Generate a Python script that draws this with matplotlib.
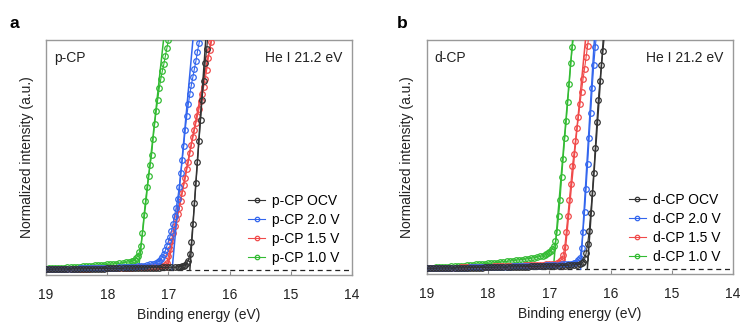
import matplotlib.pyplot as plt

# shared energy grid for the flat (pre-onset) part of every spectrum, eV
BASE_E = [
    19.00, 18.95, 18.90, 18.85, 18.80, 18.75, 18.70, 18.65, 18.60, 18.55,
    18.50, 18.45, 18.40, 18.35, 18.30, 18.25, 18.20, 18.15, 18.10, 18.05,
    18.00, 17.95, 17.90, 17.85, 17.80, 17.75, 17.70, 17.65, 17.60, 17.55,
    17.50, 17.45, 17.40, 17.35, 17.30, 17.25, 17.20, 17.15, 17.10, 17.05,
    17.00, 16.95, 16.90, 16.85, 16.80, 16.75, 16.70, 16.65, 16.60, 16.55,
    16.50,
]

LABELS = ["OCV", "2.0 V", "1.5 V", "1.0 V"]
COLORS = ["#333333", "#3366ee", "#f04a4a", "#33bb33"]

# ---- panel a: p-CP ----
P_BASE = [
    [0.003, 0.003, 0.003, 0.004, 0.004, 0.004, 0.004, 0.004, 0.005, 0.005,
     0.005, 0.005, 0.005, 0.005, 0.006, 0.006, 0.006, 0.006, 0.006, 0.006,
     0.007, 0.007, 0.007, 0.007, 0.007, 0.008, 0.008, 0.008, 0.008, 0.008,
     0.009, 0.009, 0.009, 0.009, 0.010, 0.010, 0.010, 0.010, 0.011, 0.011,
     0.011, 0.012, 0.012, 0.013],
    [0.004, 0.004, 0.004, 0.005, 0.005, 0.005, 0.005, 0.006, 0.006, 0.006,
     0.006, 0.007, 0.007, 0.007, 0.007, 0.008, 0.008, 0.008, 0.009, 0.009,
     0.009, 0.010, 0.010, 0.010, 0.011, 0.011, 0.012, 0.012, 0.013, 0.013,
     0.016, 0.017, 0.019, 0.021, 0.024, 0.027, 0.031],
    [0.003, 0.003, 0.004, 0.004, 0.004, 0.004, 0.005, 0.005, 0.005, 0.005,
     0.005, 0.006, 0.006, 0.006, 0.006, 0.007, 0.007, 0.007, 0.007, 0.008,
     0.008, 0.008, 0.008, 0.009, 0.009, 0.009, 0.010, 0.010, 0.010, 0.011,
     0.011, 0.012, 0.012, 0.013, 0.013, 0.014, 0.015, 0.016, 0.018, 0.020],
    [0.006, 0.007, 0.007, 0.008, 0.009, 0.009, 0.010, 0.011, 0.012, 0.013,
     0.014, 0.015, 0.016, 0.017, 0.018, 0.019, 0.020, 0.021, 0.022, 0.023,
     0.024, 0.025, 0.026, 0.028, 0.029, 0.031, 0.033, 0.035, 0.037],
]
P_RISE_E = [
    [16.825, 16.80, 16.775, 16.75, 16.725, 16.70, 16.675, 16.65, 16.625,
     16.60, 16.575, 16.55, 16.525, 16.50, 16.475, 16.45, 16.425, 16.40,
     16.375, 16.35],
    [17.175, 17.15, 17.125, 17.10, 17.075, 17.05, 17.025, 17.00, 16.975,
     16.95, 16.925, 16.90, 16.875, 16.85, 16.825, 16.80, 16.775, 16.75,
     16.725, 16.70, 16.675, 16.65, 16.625, 16.60, 16.575, 16.55, 16.525,
     16.50, 16.475],
    [17.025, 17.00, 16.975, 16.95, 16.925, 16.90, 16.875, 16.85, 16.825,
     16.80, 16.775, 16.75, 16.725, 16.70, 16.675, 16.65, 16.625, 16.60,
     16.575, 16.55, 16.525, 16.50, 16.475, 16.45, 16.425, 16.40, 16.375,
     16.35, 16.325, 16.30, 16.275],
    [17.575, 17.55, 17.525, 17.50, 17.475, 17.45, 17.425, 17.40, 17.375,
     17.35, 17.325, 17.30, 17.275, 17.25, 17.225, 17.20, 17.175, 17.15,
     17.125, 17.10, 17.075, 17.05, 17.025, 17.00, 16.975],
]
P_RISE_I = [
    [0.014, 0.015, 0.017, 0.019, 0.023, 0.030, 0.040, 0.070, 0.120,
     0.200, 0.290, 0.380, 0.470, 0.560, 0.650, 0.740, 0.820, 0.900,
     0.960, 1.030],
    [0.035, 0.040, 0.047, 0.055, 0.068, 0.085, 0.105, 0.125, 0.145,
     0.170, 0.200, 0.235, 0.270, 0.310, 0.360, 0.420, 0.480, 0.540,
     0.610, 0.670, 0.720, 0.765, 0.805, 0.840, 0.875, 0.910, 0.950,
     0.985, 1.020],
    [0.030, 0.060, 0.090, 0.125, 0.160, 0.190, 0.220, 0.245, 0.270,
     0.300, 0.335, 0.370, 0.400, 0.440, 0.470, 0.510, 0.545, 0.580,
     0.610, 0.640, 0.670, 0.700, 0.735, 0.765, 0.795, 0.830, 0.870,
     0.920, 0.955, 0.990, 1.030],
    [0.040, 0.045, 0.052, 0.062, 0.078, 0.105, 0.160, 0.240, 0.300,
     0.360, 0.410, 0.455, 0.500, 0.570, 0.635, 0.690, 0.740, 0.790,
     0.830, 0.865, 0.895, 0.930, 0.965, 1.000, 1.040],
]
# linear onset fits: [onset energy, energy at I = 1]
P_FIT = [[16.65, 16.39], [16.94, 16.60], [17.02, 16.30], [17.49, 17.08]]

# ---- panel b: d-CP ----
D_BASE = [
    [0.003, 0.003, 0.003, 0.003, 0.004, 0.004, 0.004, 0.004, 0.004, 0.005,
     0.005, 0.005, 0.005, 0.005, 0.006, 0.006, 0.006, 0.006, 0.006, 0.007,
     0.007, 0.007, 0.007, 0.008, 0.008, 0.008, 0.008, 0.009, 0.009, 0.009,
     0.009, 0.010, 0.010, 0.010, 0.011, 0.011, 0.011, 0.012, 0.012, 0.012,
     0.013, 0.013, 0.014, 0.014, 0.015, 0.015, 0.016, 0.017, 0.018, 0.019,
     0.020],
    [0.003, 0.003, 0.004, 0.004, 0.004, 0.004, 0.005, 0.005, 0.005, 0.005,
     0.006, 0.006, 0.006, 0.006, 0.007, 0.007, 0.007, 0.007, 0.008, 0.008,
     0.008, 0.009, 0.009, 0.009, 0.009, 0.010, 0.010, 0.010, 0.011, 0.011,
     0.011, 0.012, 0.012, 0.013, 0.013, 0.014, 0.014, 0.015, 0.015, 0.016,
     0.017, 0.017, 0.018, 0.019, 0.020, 0.021, 0.022, 0.023, 0.025],
    [0.004, 0.004, 0.004, 0.005, 0.005, 0.005, 0.005, 0.006, 0.006, 0.006,
     0.006, 0.007, 0.007, 0.007, 0.008, 0.008, 0.008, 0.009, 0.009, 0.009,
     0.010, 0.010, 0.011, 0.011, 0.012, 0.012, 0.013, 0.013, 0.014, 0.014,
     0.015, 0.015, 0.016, 0.016, 0.017, 0.017, 0.018, 0.019, 0.019, 0.020,
     0.021, 0.022, 0.023],
    [0.005, 0.006, 0.006, 0.007, 0.008, 0.008, 0.009, 0.010, 0.011, 0.012,
     0.013, 0.014, 0.015, 0.016, 0.018, 0.019, 0.020, 0.021, 0.022, 0.023,
     0.024, 0.025, 0.027, 0.028, 0.030, 0.032, 0.033, 0.035, 0.036, 0.038,
     0.040, 0.041, 0.043, 0.045, 0.047, 0.049, 0.052, 0.055, 0.058],
]
D_RISE_E = [
    [16.475, 16.45, 16.425, 16.40, 16.375, 16.35, 16.325, 16.30, 16.275,
     16.25, 16.225, 16.20, 16.175, 16.15, 16.125, 16.10],
    [16.575, 16.55, 16.525, 16.50, 16.475, 16.45, 16.425, 16.40, 16.375,
     16.35, 16.325, 16.30, 16.275, 16.25, 16.225],
    [16.875, 16.85, 16.825, 16.80, 16.775, 16.75, 16.725, 16.70, 16.675,
     16.65, 16.625, 16.60, 16.575, 16.55, 16.525, 16.50, 16.475, 16.45,
     16.425, 16.40, 16.375, 16.35],
    [17.075, 17.05, 17.025, 17.00, 16.975, 16.95, 16.925, 16.90, 16.875,
     16.85, 16.825, 16.80, 16.775, 16.75, 16.725, 16.70, 16.675, 16.65,
     16.625, 16.60],
]
D_RISE_I = [
    [0.024, 0.030, 0.042, 0.068, 0.110, 0.165, 0.245, 0.330, 0.420,
     0.530, 0.640, 0.740, 0.820, 0.890, 0.950, 1.020],
    [0.028, 0.032, 0.038, 0.050, 0.090, 0.160, 0.250, 0.350, 0.460,
     0.570, 0.680, 0.790, 0.890, 0.970, 1.040],
    [0.025, 0.028, 0.033, 0.042, 0.060, 0.095, 0.160, 0.230, 0.300,
     0.370, 0.450, 0.500, 0.560, 0.615, 0.665, 0.720, 0.775, 0.830,
     0.875, 0.925, 0.975, 1.030],
    [0.061, 0.065, 0.069, 0.074, 0.080, 0.088, 0.100, 0.120, 0.160,
     0.230, 0.300, 0.400, 0.480, 0.570, 0.645, 0.730, 0.810, 0.900,
     0.970, 1.030],
]
D_FIT = [[16.38, 16.12], [16.49, 16.265], [16.77, 16.41], [16.935, 16.62]]

X_TICKS = [19, 18, 17, 16, 15, 14]

plt.rcParams["font.family"] = ["Liberation Sans", "DejaVu Sans"]
plt.rcParams["font.size"] = 10


def draw_panel(ax, name, base, rise_e, rise_i, fits):
    ax.axhline(0, color="#222222", linestyle=(0, (4, 3)), linewidth=0.9, zorder=1)
    handles = []
    # draw 1.0 V first so that OCV ends up on top of the baseline band
    for k in [3, 2, 1, 0]:
        xs = BASE_E[:len(base[k])] + rise_e[k]
        ys = base[k] + rise_i[k]
        line, = ax.plot(xs, ys, "-o", color=COLORS[k], linewidth=0.8,
                        markersize=4, markerfacecolor="none",
                        markeredgewidth=0.9, label=f"{name} {LABELS[k]}",
                        zorder=3 + (3 - k))
        ax.plot(fits[k], [0.0, 1.0], "-", color=COLORS[k], linewidth=1.1,
                zorder=3 + (3 - k))
        handles.append(line)
    handles = handles[::-1]
    ax.legend(handles=handles, loc="lower right", bbox_to_anchor=(1.0, -0.01),
              frameon=False, handlelength=1.2, handletextpad=0.5,
              labelspacing=0.36, markerscale=0.8, fontsize=10)

    ax.set_xlim(19, 14)
    ax.set_ylim(-0.022, 1.0)
    ax.set_xticks(X_TICKS)
    ax.set_yticks([])
    ax.tick_params(axis="x", direction="in", length=3, color="#888888",
                   labelcolor="#222222", pad=9)
    for s in ax.spines.values():
        s.set_color("#999999")
        s.set_linewidth(1.0)
    ax.set_xlabel("Binding energy (eV)", labelpad=5, color="#222222")
    ax.set_ylabel("Normalized intensity (a.u.)", labelpad=9, color="#222222")
    ax.text(0.025, 0.955, name, transform=ax.transAxes, ha="left", va="top",
            color="#222222")
    ax.text(0.968, 0.955, "He I 21.2 eV", transform=ax.transAxes, ha="right",
            va="top", color="#222222")


fig = plt.figure(figsize=(7.4, 3.25), dpi=100)
ax_a = fig.add_axes([0.0622, 0.1538, 0.4135, 0.7231])
ax_b = fig.add_axes([0.577, 0.1569, 0.4135, 0.72])

draw_panel(ax_a, "p-CP", P_BASE, P_RISE_E, P_RISE_I, P_FIT)
draw_panel(ax_b, "d-CP", D_BASE, D_RISE_E, D_RISE_I, D_FIT)

fig.text(0.013, 0.915, "a", fontsize=12.5, fontweight="bold")
fig.text(0.536, 0.915, "b", fontsize=12.5, fontweight="bold")

fig.savefig("out.png", dpi=100)
